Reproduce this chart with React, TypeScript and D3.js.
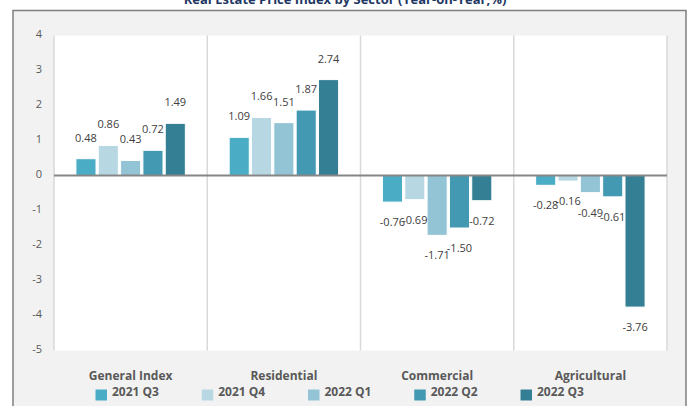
import * as d3 from "d3";

const sectors = ["General Index", "Residential", "Commercial", "Agricultural"];
const quarters = ["2021 Q3", "2021 Q4", "2022 Q1", "2022 Q2", "2022 Q3"];

// one array per quarter, in sector order
const q2021Q3 = [0.48, 1.09, -0.76, -0.28];
const q2021Q4 = [0.86, 1.66, -0.69, -0.16];
const q2022Q1 = [0.43, 1.51, -1.71, -0.49];
const q2022Q2 = [0.72, 1.87, -1.5, -0.61];
const q2022Q3 = [1.49, 2.74, -0.72, -3.76];

const yTicks = [4, 3, 2, 1, 0, -1, -2, -3, -4, -5];
const colors = ["#4bacc6", "#b7d7e3", "#93c4d5", "#4399b2", "#357f94"];

const title = "Real Estate Price Index by Sector (Year-on-Year,%)";

const series = [q2021Q3, q2021Q4, q2022Q1, q2022Q2, q2022Q3];

const width = 690;
const height = 406;
const plot = { left: 54, right: 667, top: 35.5, bottom: 350.5 };
const font = "'Open Sans', 'Noto Sans', sans-serif";

export default function App() {
  const x0 = d3.scaleBand<string>()
    .domain(sectors)
    .range([plot.left, plot.right])
    .padding(0);

  const bw = x0.bandwidth();

  const x1 = d3.scaleBand<string>()
    .domain(quarters)
    .range([bw * 0.143, bw * 0.857])
    .paddingInner(0.1);

  const y = d3.scaleLinear()
    .domain([-5, 4])
    .range([plot.bottom, plot.top]);

  const legendX = d3.scaleLinear()
    .domain([0, quarters.length - 1])
    .range([95.5, 520.5]);

  return (
    <svg
      width={width}
      height={height}
      style={{ position: "absolute", left: 0, top: 0 }}
      fontFamily={font}
    >
      {/* Title, mostly cropped above the page */}
      <text
        x={345}
        y={4}
        textAnchor="middle"
        fontSize="13"
        fontWeight="bold"
        fill="#1f3864"
      >
        {title}
      </text>

      {/* Chart frame */}
      <rect x={13} y={10.5} width={673} height={420} fill="#f2f2f2" stroke="#7f7f7f" strokeWidth={1.5} />

      {/* Plot area */}
      <rect
        x={plot.left}
        y={plot.top}
        width={plot.right - plot.left}
        height={plot.bottom - plot.top}
        fill="#ffffff"
      />

      {/* Category separators */}
      {[...sectors.map(s => x0(s)!), plot.right].map((gx, i) => (
        <line
          key={i}
          x1={gx}
          x2={gx}
          y1={plot.top}
          y2={plot.bottom}
          stroke="#d9d9d9"
          strokeWidth={1.5}
        />
      ))}

      {/* Y ticks */}
      {yTicks.map(t => (
        <text
          key={t}
          x={42}
          y={y(t)}
          textAnchor="end"
          dominantBaseline="middle"
          fontSize="11"
          fill="#595959"
        >
          {t}
        </text>
      ))}

      {/* Bars */}
      {sectors.map((s, si) => (
        <g key={s} transform={`translate(${x0(s)},0)`}>
          {quarters.map((q, qi) => {
            const v = series[qi][si];
            const y0 = y(0);
            const yv = y(v);
            return (
              <rect
                key={q}
                x={x1(q)}
                y={Math.min(y0, yv)}
                width={x1.bandwidth()}
                height={Math.abs(yv - y0)}
                fill={colors[qi]}
                stroke="#ffffff"
                strokeWidth={1}
              />
            );
          })}
        </g>
      ))}

      {/* Zero line */}
      <line
        x1={plot.left}
        x2={plot.right}
        y1={y(0)}
        y2={y(0)}
        stroke="#868686"
        strokeWidth={2}
      />

      {/* Value labels */}
      {sectors.map((s, si) => (
        <g key={s} transform={`translate(${x0(s)},0)`}>
          {quarters.map((q, qi) => {
            const v = series[qi][si];
            return (
              <text
                key={q}
                x={x1(q)! + x1.bandwidth() / 2}
                y={v >= 0 ? y(v) - 20 : y(v) + 21}
                textAnchor="middle"
                dominantBaseline="middle"
                fontSize="11"
                fill="#404040"
              >
                {v.toFixed(2)}
              </text>
            );
          })}
        </g>
      ))}

      {/* Category labels */}
      {sectors.map(s => (
        <text
          key={s}
          x={x0(s)! + bw / 2}
          y={377}
          textAnchor="middle"
          dominantBaseline="middle"
          fontSize="12"
          fontWeight="bold"
          fill="#595959"
        >
          {s}
        </text>
      ))}

      {/* Legend */}
      {quarters.map((q, i) => (
        <g key={q} transform={`translate(${legendX(i)},389.5)`}>
          <rect width={11.5} height={11} fill={colors[i]} />
          <text
            x={16.5}
            y={3}
            dominantBaseline="middle"
            fontSize="12"
            fontWeight="bold"
            fill="#595959"
          >
            {q}
          </text>
        </g>
      ))}
    </svg>
  );
}
